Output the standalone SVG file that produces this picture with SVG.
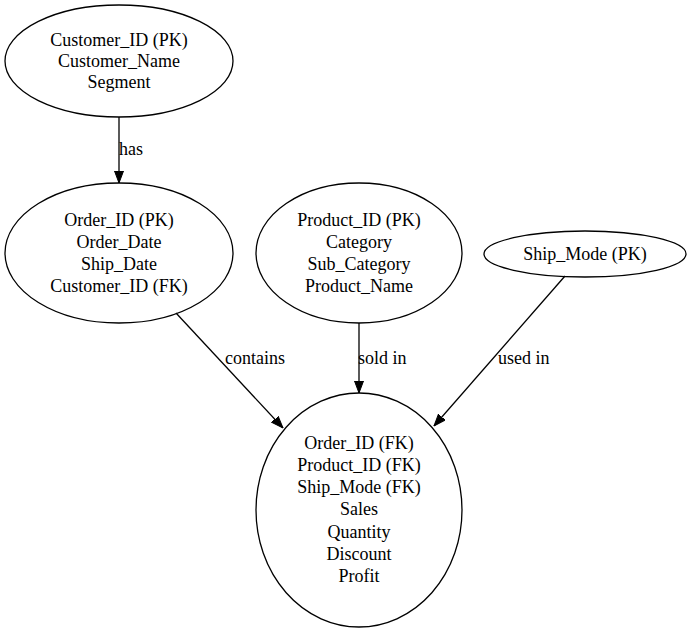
<svg xmlns="http://www.w3.org/2000/svg" width="691" height="631" viewBox="0 0 691 631" font-family="'Liberation Serif', 'Times New Roman', Times, serif" font-size="18">
<defs>
<marker id="arr" markerWidth="12" markerHeight="10" refX="12" refY="5" orient="auto" markerUnits="userSpaceOnUse" viewBox="0 0 12 10">
<path d="M0,0.5 L12,5 L0,9.5 Z" fill="#000" stroke="#000" stroke-width="1"/>
</marker>
<style>
ellipse { fill: none; stroke: #000; stroke-width: 1.3; }
text { fill: #000; text-anchor: middle; }
.edge { stroke: #000; stroke-width: 1.3; fill: none; }
.lbl { text-anchor: start; }
</style>
</defs>
<rect width="691" height="631" fill="#fff"/>
<g id="customer">
<ellipse cx="119" cy="61" rx="114" ry="56"/>
<text x="119" y="46">Customer_ID (PK)</text>
<text x="119" y="67">Customer_Name</text>
<text x="119" y="88">Segment</text>
</g>
<g id="orders">
<ellipse cx="119" cy="253" rx="114" ry="70"/>
<text x="119" y="226">Order_ID (PK)</text>
<text x="119" y="248">Order_Date</text>
<text x="119" y="270">Ship_Date</text>
<text x="119" y="292">Customer_ID (FK)</text>
</g>
<g id="product">
<ellipse cx="359" cy="253" rx="103" ry="70"/>
<text x="359" y="226">Product_ID (PK)</text>
<text x="359" y="248">Category</text>
<text x="359" y="270">Sub_Category</text>
<text x="359" y="292">Product_Name</text>
</g>
<g id="shipmode">
<ellipse cx="585" cy="254" rx="101" ry="23"/>
<text x="585" y="260">Ship_Mode (PK)</text>
</g>
<g id="sales">
<ellipse cx="359" cy="510" rx="103" ry="117"/>
<text x="359" y="449">Order_ID (FK)</text>
<text x="359" y="471">Product_ID (FK)</text>
<text x="359" y="493">Ship_Mode (FK)</text>
<text x="359" y="515">Sales</text>
<text x="359" y="538">Quantity</text>
<text x="359" y="560">Discount</text>
<text x="359" y="582">Profit</text>
</g>
<g id="edges">
<line class="edge" x1="119" y1="117" x2="119" y2="183" marker-end="url(#arr)"/>
<text class="lbl" x="119" y="155">has</text>
<line class="edge" x1="176" y1="313" x2="283" y2="428" marker-end="url(#arr)"/>
<text class="lbl" x="225" y="364">contains</text>
<line class="edge" x1="359" y1="323" x2="359" y2="393" marker-end="url(#arr)"/>
<text class="lbl" x="358" y="364">sold in</text>
<line class="edge" x1="565" y1="276" x2="434" y2="426" marker-end="url(#arr)"/>
<text class="lbl" x="498" y="364">used in</text>
</g>
</svg>
